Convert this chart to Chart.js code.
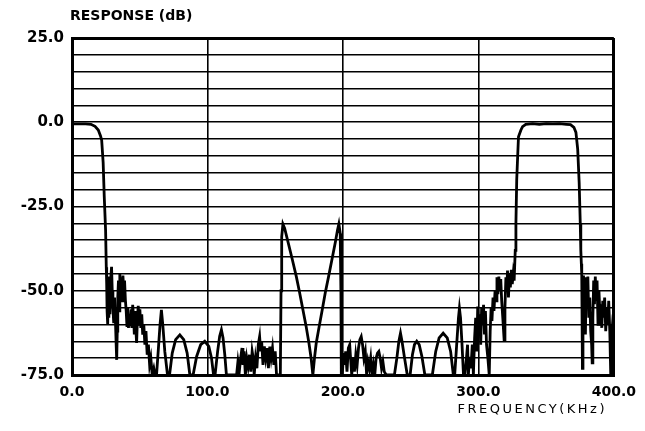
<!DOCTYPE html>
<html>
<head>
<meta charset="utf-8">
<script src="https://cdn.jsdelivr.net/npm/chart.js@4.4.1/dist/chart.umd.min.js"></script>
<style>
  html, body { margin: 0; padding: 0; background: #fff; }
  #wrap { width: 645px; height: 431px; }
</style>
</head>
<body>
<div id="wrap"><canvas id="myChart" width="645" height="431"></canvas></div>
<script>
// low-pass edge + first stopband (kHz / dB)
const lowFreq = [0, 5, 10, 14, 17, 19.4, 21, 21.9, 23, 23.8, 24.8, 25.3,
  25.6, 25.9, 26.2, 26.5, 26.8, 27.2, 27.6, 28, 28.5, 29.2, 29.7, 30.2, 30.8, 31.4, 32, 32.6, 33, 33.4,
  33.8, 34.3, 34.8, 35.3, 35.8, 36.4, 37, 37.6, 38.2, 38.8, 39.4, 40, 40.6, 41.1, 41.7, 42.3, 42.9,
  43.6, 44.2, 44.8, 45.5, 46, 46.6, 47.2, 47.7, 48.3, 48.9, 49.5, 50.1, 50.8, 51.5, 52.2,
  53, 53.8, 54.6, 55.5, 56.4, 57.3, 58.2, 59.2, 60.4, 61.3];
const lowDb = [-0.5, -0.5, -0.5, -0.6, -1.2, -2.3, -4, -5.3, -12, -22, -32, -43,
  -48, -56, -46, -60, -45.8, -58, -50, -57, -47, -42.9, -50, -55, -59.6, -52, -58, -66, -70.5, -62,
  -52, -47, -56, -44.8, -51, -46, -53, -45.5, -50, -47, -52.7, -56, -60.7, -55, -61, -57, -60.5,
  -55.5, -61, -54.2, -58, -63, -56, -62, -65.5, -58, -54.5, -60, -55.5, -61, -57, -63,
  -60, -66, -62, -69, -66, -72, -70, -75, -73, -75];

// side lobes 60-152 kHz
const lobeFreq1 = [62.4, 63.8, 65, 66, 67, 68.5, 70.5,
  72, 74, 76.5, 79.6, 82.5, 85, 87,
  89.4, 92, 95, 98, 101, 103, 104.5,
  105.6, 107.5, 109, 110.3, 111.5, 112.8, 114,
  121.5, 122.5, 123.5, 124.5, 125.5, 126.2, 127, 128, 129, 130, 131, 132, 133, 133.8, 134.5, 135.5,
  136.5, 137.5, 138.5, 139.3, 140, 141, 142, 143, 144, 145, 146, 147, 148, 149, 150, 151, 152.5];
const lobeDb1 = [-75, -67, -60, -55.7, -60, -68, -75,
  -75, -68.5, -64.5, -63.1, -64.5, -68.5, -75,
  -75, -69.5, -66, -65, -66.5, -70, -75,
  -75, -68, -63.5, -61.6, -64, -69, -75,
  -75, -71, -74, -70, -67, -72, -68, -75, -70, -72.5, -69, -74, -68, -70, -75, -70,
  -73, -66, -63.6, -68, -65, -72, -66.5, -70, -67, -73, -66.6, -70, -67, -72, -68, -75, -75];

// spurious response pair 153-199 kHz
const spurFreq = [153.8, 154.3, 154.8, 155.7, 157, 159.4, 162.5, 165.6, 168, 170.5, 172.8, 174.9, 176.5, 177.8,
  179, 180.3, 182.5, 184.7, 187, 189.4, 192, 194.5, 196, 197, 198, 198.5, 198.8];
const spurDb = [-75, -50, -34, -30.2, -31.5, -35.4, -40.5, -45.8, -50.5, -55.7, -60.5, -65.5, -70, -75,
  -70, -65.5, -60.5, -55.7, -50.5, -45.8, -40.5, -35.4, -32, -30.2, -33, -50, -75];

// side lobes 199-296 kHz
const lobeFreq2 = [199.5, 200.5, 201.3, 202, 203, 204, 205, 205.8, 206.5, 207.5, 208.5, 209.5, 210.5,
  211.5, 212.5, 213.5, 214.5, 215.5, 216.5, 217.5, 218.5, 219.5, 220.5, 221.5, 222.5, 223.5, 224.5,
  225.5, 226.5, 227.5, 228.5, 229.5, 230.5, 232,
  238, 239.8, 241.3, 242.5, 243.6, 245.5, 247.5,
  249.6, 251.3, 252.8, 254.5, 256.3, 258.3, 260.5,
  266, 268.5, 271, 274, 277, 279.5, 281.5,
  282.5, 284.3, 285.3, 286, 286.8, 287.8, 289,
  290, 291.2, 292, 292.6, 293.5, 294.5, 295.5, 296.3];
const lobeDb2 = [-75, -68.5, -72, -68, -74, -67, -66, -71, -75, -70, -74, -69, -72,
  -67, -64.5, -63.6, -66, -70, -68, -75, -71, -73, -70, -75, -72, -75, -70,
  -68.5, -68, -70, -73, -71, -74, -75,
  -75, -70, -65, -62.6, -65, -70, -75,
  -75, -69, -66, -65, -66, -69.5, -75,
  -75, -68, -64, -62.6, -64, -68, -75,
  -75, -64, -58, -55.2, -58, -65, -75,
  -75, -70, -66, -75, -69.6, -73, -66, -75];

// band-pass 297-400 kHz
const highFreq = [297.2, 298, 298.8, 299.5, 300.3, 301, 301.7, 302.4, 303.1, 303.8, 304.5, 305.2, 306, 307, 308,
  308.7, 309.4, 310, 310.8, 311.5, 312.3, 313, 313.7, 314.4, 315.1, 315.8, 316.5, 317.2, 318, 319,
  319.6, 320.3, 320.9, 321.5, 322.2, 322.9, 323.6, 324.3, 325, 325.7, 326.4,
  327.2, 327.7, 328.3, 329, 329.6, 331.4, 332.6, 335, 340, 345, 350, 355, 360, 365, 368,
  370.5, 372, 373.3, 374.4, 375.2, 375.6, 376, 376.3,
  376.8, 377.2, 377.6, 378, 378.5, 379, 379.6, 380.2, 380.8, 381.5, 382.2, 382.9, 383.6, 384,
  384.5, 385.1, 385.7, 386.3, 387, 387.6, 388.3, 389, 389.7, 390.4, 391.1, 391.8, 392.5, 393.2,
  394, 394.8, 395.5, 396.2, 397, 397.7, 398.3, 399, 400];
const highDb = [-64, -58, -68, -54.7, -62, -57, -66, -55, -60, -54.2, -63, -56, -66, -70, -75,
  -62, -55, -59, -52, -56, -50, -53, -46, -51, -45.8, -50, -46.5, -53, -58, -64.6,
  -55, -46, -50, -44, -52, -45, -49, -43.8, -48, -45, -47,
  -38, -30, -17, -10, -4.3, -2.3, -1.3, -0.6, -0.4, -0.6, -0.4, -0.5, -0.4, -0.6, -0.7,
  -1.5, -3, -8, -18, -30, -37.9, -42, -45.3,
  -73, -52, -45.5, -56, -47, -63, -46, -55, -45.8, -58, -52, -62, -66, -71.4,
  -58, -47, -54, -45.8, -53, -47, -60, -50, -57, -54, -61, -53, -58, -52,
  -62, -55, -60, -53, -62, -75, -64, -60, -62];

const xTicks = [0, 100, 200, 300, 400];
const yLabelled = [25, 0, -25, -50, -75];

const freqs = [].concat(lowFreq, lobeFreq1, spurFreq, lobeFreq2, highFreq);
const dbs = [].concat(lowDb, lobeDb1, spurDb, lobeDb2, highDb);
const points = freqs.map((f, i) => ({ x: f, y: dbs[i] }));

// axis titles drawn as text
const axisTitles = {
  id: "axisTitles",
  afterDraw(c) {
    const ctx = c.ctx;
    ctx.save();
    ctx.fillStyle = "#000";
    ctx.textBaseline = "middle";
    ctx.textAlign = "left";
    ctx.font = "bold 14px 'DejaVu Sans'";
    ctx.fillText("RESPONSE (dB)", 70, 16);
    ctx.font = "13px 'DejaVu Sans'";
    ctx.letterSpacing = "2.5px";
    ctx.textAlign = "right";
    ctx.fillText("FREQUENCY(KHz)", 607, 410);
    ctx.restore();
  }
};

const ctx = document.getElementById("myChart").getContext("2d");
new Chart(ctx, {
  type: "line",
  data: {
    datasets: [{
      data: points,
      borderColor: "#000",
      borderWidth: 2.8,
      pointRadius: 0,
      tension: 0,
      fill: false
    }]
  },
  options: {
    responsive: false,
    animation: false,
    layout: { padding: { left: 0, top: 38, right: 31, bottom: 0 } },
    plugins: { legend: { display: false }, tooltip: { enabled: false } },
    scales: {
      x: {
        type: "linear",
        min: 0,
        max: 400,
        afterFit: s => { s.height = 56; },
        afterBuildTicks: s => { s.ticks = xTicks.map(v => ({ value: v })); },
        border: { color: "#000", width: 3 },
        grid: {
          color: "#000",
          lineWidth: c => (c.tick && (c.tick.value === 0 || c.tick.value === 400)) ? 3 : 1.6,
          drawTicks: false
        },
        ticks: {
          color: "#000",
          padding: 9,
          maxRotation: 0,
          font: { family: "DejaVu Sans", weight: "bold", size: 14 },
          callback: v => v.toFixed(1)
        }
      },
      y: {
        min: -75,
        max: 25,
        afterFit: s => { s.width = 72; },
        border: { color: "#000", width: 3 },
        grid: {
          color: "#000",
          lineWidth: c => (c.tick && (c.tick.value === 25 || c.tick.value === -75)) ? 3 : 1.6,
          drawTicks: false
        },
        ticks: {
          stepSize: 5,
          maxTicksLimit: 21,
          color: "#000",
          padding: 8,
          autoSkip: false,
          font: { family: "DejaVu Sans", weight: "bold", size: 15 },
          callback: v => yLabelled.includes(v) ? v.toFixed(1) : ""
        }
      }
    }
  },
  plugins: [axisTitles]
});
</script>
</body>
</html>
